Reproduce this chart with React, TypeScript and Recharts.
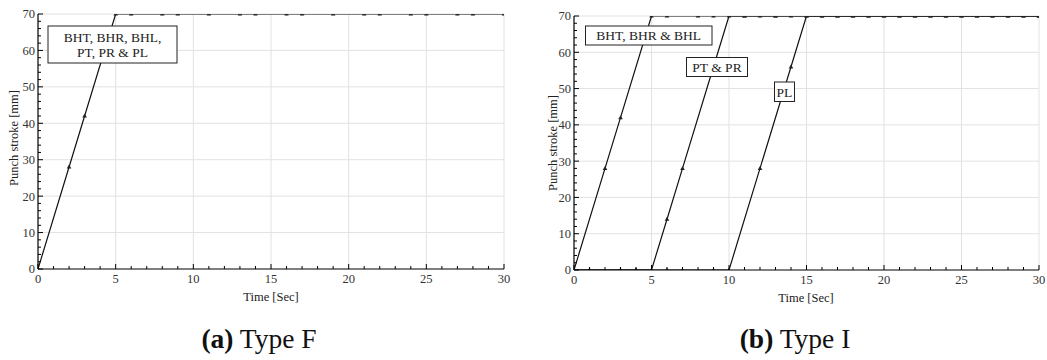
import React from 'react';
import { LineChart, Line, XAxis, YAxis, ReferenceLine } from 'recharts';

// ---- data ----
const timeF = [0, 2, 3, 5, 6, 8, 9, 11, 13, 14, 16, 17, 19, 21, 22, 24, 25, 27, 28, 30];
const strokeF = [0, 28, 42, 70, 70, 70, 70, 70, 70, 70, 70, 70, 70, 70, 70, 70, 70, 70, 70, 70];

const timeBH = [0, 2, 3, 5, 6, 8, 9, 11, 13, 14, 16, 17, 19, 21, 22, 24, 25, 27, 28, 30];
const strokeBH = [0, 28, 42, 70, 70, 70, 70, 70, 70, 70, 70, 70, 70, 70, 70, 70, 70, 70, 70, 70];

const timePT = [0, 1, 3, 4, 5, 6, 7, 9, 10, 11, 12, 13, 15, 18, 20, 23, 26, 29, 30];
const strokePT = [0, 0, 0, 0, 0, 14, 28, 56, 70, 70, 70, 70, 70, 70, 70, 70, 70, 70, 70];

const timePL = [0, 1, 3, 4, 6, 7, 9, 10, 12, 14, 15, 16, 17, 18, 19, 20, 21, 22, 23, 24, 25, 26, 27, 28, 29, 30];
const strokePL = [0, 0, 0, 0, 0, 0, 0, 0, 28, 56, 70, 70, 70, 70, 70, 70, 70, 70, 70, 70, 70, 70, 70, 70, 70, 70];

const xTicks = Array.from({ length: 31 }, (_, i) => i);
const yTicks = Array.from({ length: 36 }, (_, i) => i * 2);
const xGrid = [5, 10, 15, 20, 25, 30];
const yGrid = [10, 20, 30, 40, 50, 60, 70];

const toPts = (t: number[], v: number[]) => t.map((x, i) => ({ t: x, s: v[i] }));

const FONT = '"Liberation Serif", "DejaVu Serif", "Times New Roman", serif';

const Tri = (props: any) => {
  const { cx, cy, index } = props;
  if (cx == null || cy == null) return null;
  return (
    <path
      key={`tri-${index}`}
      d={`M${cx},${cy - 2.4} L${cx + 2.3},${cy + 1.6} L${cx - 2.3},${cy + 1.6} Z`}
      fill="#222"
    />
  );
};

const XTick = (props: any) => {
  const { x, y, payload } = props;
  const v = payload.value;
  const major = v % 5 === 0;
  return (
    <g>
      <line x1={x} x2={x} y1={y} y2={y - (major ? 5 : 3)} stroke="#000" strokeWidth={1} />
      {major && (
        <text x={x} y={y + 5} dy="0.71em" textAnchor="middle" style={{ fontFamily: FONT }} fontSize={12.5} fill="#333">
          {v}
        </text>
      )}
    </g>
  );
};

const YTick = (props: any) => {
  const { x, y, payload } = props;
  const v = payload.value;
  const major = v % 10 === 0;
  return (
    <g>
      <line x1={x} x2={x + (major ? 5 : 3)} y1={y} y2={y} stroke="#000" strokeWidth={1} />
      {major && (
        <text x={x - 3} y={y} dy="0.355em" textAnchor="end" style={{ fontFamily: FONT }} fontSize={12.5} fill="#333">
          {v}
        </text>
      )}
    </g>
  );
};

type Series = { t: number[]; v: number[] };

const Panel = ({ series, width, margin, yWidth, xHeight }: { series: Series[]; width: number; margin: any; yWidth: number; xHeight: number }) => (
  <LineChart width={width} height={300} margin={margin}>
    <XAxis
      type="number"
      dataKey="t"
      domain={[0, 30]}
      ticks={xTicks}
      interval={0}
      tickSize={0}
      tickMargin={0}
      tickLine={false}
      tick={<XTick />}
      axisLine={{ stroke: '#000', strokeWidth: 1.2 }}
      height={xHeight}
      allowDataOverflow
    />
    <YAxis
      type="number"
      domain={[0, 70]}
      ticks={yTicks}
      interval={0}
      tickSize={0}
      tickMargin={0}
      tickLine={false}
      tick={<YTick />}
      axisLine={{ stroke: '#000', strokeWidth: 1.2 }}
      width={yWidth}
      allowDataOverflow
    />
    {xGrid.map((g) => (
      <ReferenceLine key={`gx${g}`} x={g} stroke="#e2e2e2" strokeWidth={1} />
    ))}
    {yGrid.map((g) => (
      <ReferenceLine key={`gy${g}`} y={g} stroke="#e2e2e2" strokeWidth={1} />
    ))}
    {series.map((s, i) => (
      <Line
        key={`l${i}`}
        data={toPts(s.t, s.v)}
        dataKey="s"
        type="linear"
        stroke="#111"
        strokeWidth={1.2}
        dot={Tri}
        activeDot={false}
        isAnimationActive={false}
      />
    ))}
  </LineChart>
);

export default function App() {
  return (
    <div style={{ position: 'absolute', left: 0, top: 0, width: 1047, height: 360, background: '#fff', overflow: 'hidden' }}>
      <div style={{ position: 'absolute', left: 0, top: 0 }}>
        <Panel
          series={[{ t: timeF, v: strokeF }]}
          width={520}
          margin={{ top: 14, right: 16, left: 0, bottom: 0 }}
          yWidth={38}
          xHeight={31}
        />
      </div>
      <div style={{ position: 'absolute', left: 530, top: 0 }}>
        <Panel
          series={[
            { t: timeBH, v: strokeBH },
            { t: timePT, v: strokePT },
            { t: timePL, v: strokePL },
          ]}
          width={517}
          margin={{ top: 16, right: 8, left: 0, bottom: 0 }}
          yWidth={44}
          xHeight={30}
        />
      </div>
      <svg width={1047} height={360} style={{ position: 'absolute', left: 0, top: 0, pointerEvents: 'none', fontFamily: FONT }}>
        <g fill="#222">
          <text x={14} y={138} transform="rotate(-90 14 138)" textAnchor="middle" dominantBaseline="central" fontSize={12.5}>
            Punch stroke [mm]
          </text>
          <text x={553} y={143} transform="rotate(-90 553 143)" textAnchor="middle" dominantBaseline="central" fontSize={12.5}>
            Punch stroke [mm]
          </text>
          <text x={271} y={297} textAnchor="middle" dominantBaseline="central" fontSize={12.5}>Time [Sec]</text>
          <text x={806} y={298} textAnchor="middle" dominantBaseline="central" fontSize={12.5}>Time [Sec]</text>

          <rect x={48} y={26} width={129} height={37} fill="#fff" stroke="#222" strokeWidth={1} />
          <text x={112.5} y={37.5} textAnchor="middle" dominantBaseline="central" fontSize={13.5}>BHT, BHR, BHL,</text>
          <text x={112.5} y={52.5} textAnchor="middle" dominantBaseline="central" fontSize={13.5}>PT, PR &amp; PL</text>

          <rect x={585.5} y={26} width={126.5} height={19} fill="#fff" stroke="#222" strokeWidth={1} />
          <text x={648.7} y={35.7} textAnchor="middle" dominantBaseline="central" fontSize={13.5}>BHT, BHR &amp; BHL</text>

          <rect x={686.5} y={57.5} width={61} height={19} fill="#fff" stroke="#222" strokeWidth={1} />
          <text x={717} y={67.2} textAnchor="middle" dominantBaseline="central" fontSize={13.5}>PT &amp; PR</text>

          <rect x={774.5} y={82} width={20} height={19.5} fill="#fff" stroke="#222" strokeWidth={1} />
          <text x={784.5} y={92} textAnchor="middle" dominantBaseline="central" fontSize={13.5}>PL</text>

          <text x={259} y={338} textAnchor="middle" dominantBaseline="central" fontSize={27.5} fill="#111">
            <tspan fontWeight="bold">(a)</tspan> Type F
          </text>
          <text x={795} y={338} textAnchor="middle" dominantBaseline="central" fontSize={27.5} fill="#111">
            <tspan fontWeight="bold">(b)</tspan> Type I
          </text>
        </g>
      </svg>
    </div>
  );
}
